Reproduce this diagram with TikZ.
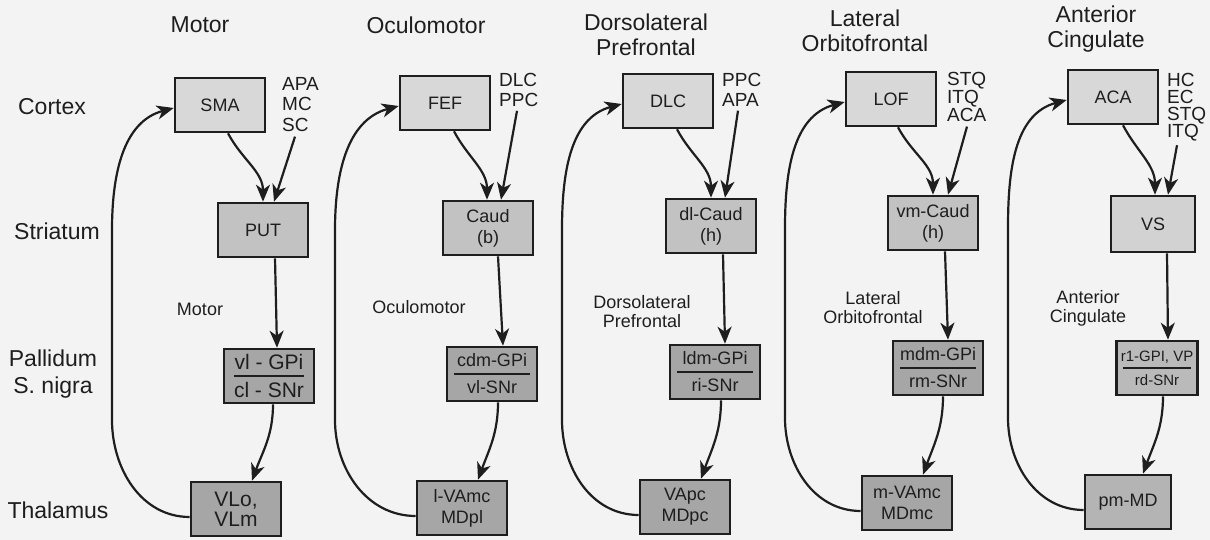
\documentclass[tikz,border=0pt]{standalone}
\usepackage{fontspec}
\setmainfont{Liberation Sans}
\usetikzlibrary{arrows.meta}
\definecolor{bg}{HTML}{F3F3F3}
\definecolor{cortexfill}{HTML}{D8D8D8}
\definecolor{strifill}{HTML}{C2C2C2}
\definecolor{palfill}{HTML}{A6A6A6}
\definecolor{thalfill}{HTML}{A6A6A6}
\definecolor{vsfill}{HTML}{D2D2D2}
\definecolor{acpalfill}{HTML}{BABABA}
\definecolor{acthalfill}{HTML}{B4B4B4}
\definecolor{ink}{HTML}{1E1E1E}
\begin{document}
\begin{tikzpicture}[x=1pt,y=1pt,
  box/.style={draw=ink, line width=2.6pt, minimum width=90pt, minimum height=54pt,
    inner sep=0pt, align=center, font=\fontsize{18}{21}\selectfont, text=ink},
  ctx/.style={box, fill=cortexfill},
  stri/.style={box, fill=strifill},
  pal/.style={box, fill=palfill},
  thl/.style={box, fill=thalfill},
  title/.style={font=\fontsize{23}{25}\selectfont, align=center, text=ink, inner sep=0pt},
  rowlab/.style={font=\fontsize{23}{27}\selectfont, align=center, text=ink, inner sep=0pt},
  inlab/.style={font=\fontsize{18}{19}\selectfont, align=center, text=ink, inner sep=0pt},
  src/.style={anchor=north west, inner sep=0pt, align=left, text=ink},
  conn/.style={draw=ink, line width=2.2pt, -{Stealth[length=17pt,width=14pt,inset=5pt]}},
  divider/.style={draw=ink, line width=1.6pt}
]
\useasboundingbox (0,0) rectangle (1210,540);
\fill[bg] (0,0) rectangle (1210,540);

% row labels
\node[rowlab] (rc) at (52,433) {Cortex};
\node[rowlab] (rs) at (57,309) {Striatum};
\node[rowlab] (rp) at (53,166) {Pallidum\\S. nigra};
\node[rowlab] (rt) at (58,30) {Thalamus};

% ---------------- Column 1: Motor
\node[title] (t1) at (200,515) {Motor};
\node[ctx] (c1) at (220,435) {SMA};
\node[src, font=\fontsize{19}{20.5}\selectfont] (s1) at (282,463) {APA\\MC\\SC};
\node[stri] (st1) at (263,310) {PUT};
\node[inlab] (i1) at (200,231) {Motor};
\node[pal, font=\fontsize{21}{21}\selectfont] (p1) at (269,164) {vl - GPi\\[7pt]cl - SNr};
\draw[divider] ([xshift=-35pt]p1.center) -- ([xshift=35pt]p1.center);
\node[thl, font=\fontsize{21}{20}\selectfont] (th1) at (236,31) {VLo,\\VLm};
\coordinate (lb1) at (112,120);
\coordinate (lt1) at (112,310);
\draw[conn] ([xshift=8pt]c1.south) to[out=-62,in=90] (st1.north);
\draw[conn] ([xshift=13pt,yshift=-5pt]s1.south west) -- ([xshift=11pt]st1.north);
\draw[conn] ([xshift=12pt]st1.south) -- ([xshift=8pt]p1.north);
\draw[conn] ([xshift=4pt]p1.south) to[out=-90,in=70] ([xshift=16pt]th1.north);
\draw[conn] ([yshift=-8pt]th1.west) to[out=180,in=-90] (lb1) -- (lt1) to[out=90,in=195] ([yshift=-3pt]c1.west);

% ---------------- Column 2: Oculomotor
\node[title] (t2) at (426,515) {Oculomotor};
\node[ctx] (c2) at (445,437) {FEF};
\node[src, font=\fontsize{19}{20}\selectfont] (s2) at (499,467) {DLC\\PPC};
\node[stri] (st2) at (488,312) {Caud\\(b)};
\node[inlab] (i2) at (419,233) {Oculomotor};
\node[pal] (p2) at (492,166) {cdm-GPi\\[6pt]vl-SNr};
\draw[divider] ([xshift=-38pt]p2.center) -- ([xshift=38pt]p2.center);
\node[thl] (th2) at (462,32) {l-VAmc\\MDpl};
\coordinate (lb2) at (335,120);
\coordinate (lt2) at (335,310);
\draw[conn] ([xshift=9pt]c2.south) to[out=-62,in=90] ([xshift=-1pt]st2.north);
\draw[conn] ([xshift=18pt,yshift=-4pt]s2.south west) -- ([xshift=13pt]st2.north);
\draw[conn] ([xshift=10pt]st2.south) -- ([xshift=11pt]p2.north);
\draw[conn] ([xshift=6pt]p2.south) to[out=-90,in=70] ([xshift=16pt]th2.north);
\draw[conn] ([yshift=-8pt]th2.west) to[out=180,in=-90] (lb2) -- (lt2) to[out=90,in=195] ([yshift=-3pt]c2.west);

% ---------------- Column 3: Dorsolateral Prefrontal
\node[title] (t3) at (646,505.5) {Dorsolateral\\Prefrontal};
\node[ctx] (c3) at (668,439) {DLC};
\node[src, font=\fontsize{19}{20}\selectfont] (s3) at (722,467) {PPC\\APA};
\node[stri] (st3) at (711,314) {dl-Caud\\(h)};
\node[inlab] (i3) at (642,228) {Dorsolateral\\Prefrontal};
\node[pal] (p3) at (715,168) {ldm-GPi\\[6pt]ri-SNr};
\draw[divider] ([xshift=-38pt]p3.center) -- ([xshift=38pt]p3.center);
\node[thl] (th3) at (685,33) {VApc\\MDpc};
\coordinate (lb3) at (562,120);
\coordinate (lt3) at (562,310);
\draw[conn] ([xshift=9pt]c3.south) to[out=-62,in=90] (st3.north);
\draw[conn] ([xshift=16pt,yshift=-4pt]s3.south west) -- ([xshift=14pt]st3.north);
\draw[conn] ([xshift=12pt]st3.south) -- ([xshift=10pt]p3.north);
\draw[conn] ([xshift=6pt]p3.south) to[out=-90,in=70] ([xshift=16pt]th3.north);
\draw[conn] ([yshift=-8pt]th3.west) to[out=180,in=-90] (lb3) -- (lt3) to[out=90,in=195] ([yshift=-3pt]c3.west);

% ---------------- Column 4: Lateral Orbitofrontal
\node[title] (t4) at (865,509.5) {Lateral\\Orbitofrontal};
\node[ctx] (c4) at (891,441) {LOF};
\node[src, font=\fontsize{19}{16.5}\selectfont] (s4) at (947,468) {STQ\\ITQ\\ACA};
\node[stri] (st4) at (933,317) {vm-Caud\\(h)};
\node[inlab] (i4) at (873,232.5) {Lateral\\Orbitofrontal};
\node[pal] (p4) at (938,172) {mdm-GPi\\[6pt]rm-SNr};
\draw[divider] ([xshift=-38pt]p4.center) -- ([xshift=38pt]p4.center);
\node[thl] (th4) at (907,37) {m-VAmc\\MDmc};
\coordinate (lb4) at (785,122);
\coordinate (lt4) at (785,312);
\draw[conn] ([xshift=7pt]c4.south) to[out=-62,in=90] (st4.north);
\draw[conn] ([xshift=20pt,yshift=-5pt]s4.south west) -- ([xshift=15pt]st4.north);
\draw[conn] ([xshift=12pt]st4.south) -- ([xshift=10pt]p4.north);
\draw[conn] ([xshift=5pt]p4.south) to[out=-90,in=70] ([xshift=16pt]th4.north);
\draw[conn] ([yshift=-8pt]th4.west) to[out=180,in=-90] (lb4) -- (lt4) to[out=90,in=195] ([yshift=-3pt]c4.west);

% ---------------- Column 5: Anterior Cingulate
\node[title] (t5) at (1096,510.5) {Anterior\\Cingulate};
\node[ctx] (c5) at (1113,443) {ACA};
\node[src, font=\fontsize{19}{17}\selectfont] (s5) at (1167,467) {HC\\EC\\STQ\\ITQ};
\node[stri, fill=vsfill, minimum width=84pt, minimum height=56pt] (st5) at (1153,316) {VS};
\node[inlab] (i5) at (1088,231.5) {Anterior\\Cingulate};
\node[pal, fill=acpalfill, minimum width=81pt, font=\fontsize{15}{18}\selectfont] (p5) at (1157,172) {r1-GPI, VP\\[6pt]rd-SNr};
\draw[divider] ([xshift=-34pt]p5.center) -- ([xshift=34pt]p5.center);
\node[thl, fill=acthalfill, minimum width=86pt] (th5) at (1128,38) {pm-MD};
\coordinate (lb5) at (1008,122);
\coordinate (lt5) at (1008,312);
\draw[conn] ([xshift=10pt]c5.south) to[out=-62,in=90] ([xshift=2pt]st5.north);
\draw[conn] ([xshift=10pt,yshift=-4pt]s5.south west) -- ([xshift=15pt]st5.north);
\draw[conn] ([xshift=14pt]st5.south) -- ([xshift=11pt]p5.north);
\draw[conn] ([xshift=6pt]p5.south) to[out=-90,in=70] ([xshift=15pt]th5.north);
\draw[conn] ([yshift=-8pt]th5.west) to[out=180,in=-90] (lb5) -- (lt5) to[out=90,in=195] ([yshift=-3pt]c5.west);
\end{tikzpicture}
\end{document}
